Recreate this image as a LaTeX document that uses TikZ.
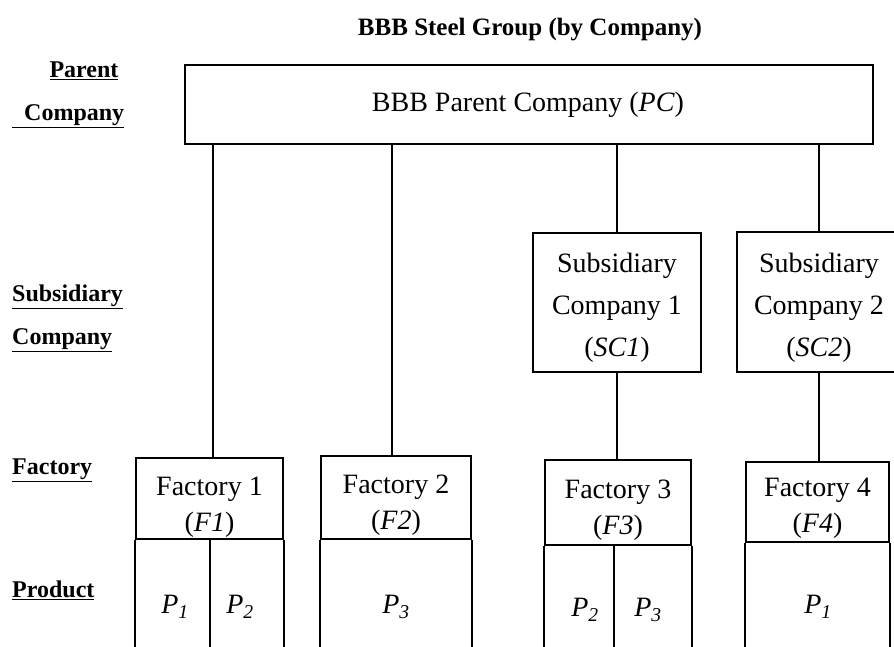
\documentclass[tikz,border=0pt]{standalone}
\usepackage{fontspec}
\setmainfont{Liberation Serif}
\begin{document}
\begin{tikzpicture}[x=1pt,y=-1pt,
  box/.style={draw, line width=1.8pt, rectangle, inner sep=0pt},
  boxtext/.style={font=\fontsize{28}{42}\selectfont, align=center, inner sep=0pt},
  factext/.style={font=\fontsize{28}{36}\selectfont, align=center, inner sep=0pt},
  prodtext/.style={font=\fontsize{28}{32}\selectfont\itshape, inner sep=0pt},
  side/.style={font=\fontsize{24}{28}\selectfont\bfseries, inner sep=0pt},
  conn/.style={line width=1.8pt}]
\useasboundingbox (0,0) rectangle (894,647);
\clip (0,0) rectangle (894,647);
\fill[white] (0,0) rectangle (894,647);
\coordinate (bot) at (0,650);

% title
\node[font=\fontsize{25}{28}\selectfont\bfseries, inner sep=0pt] (title) at (530,30) {BBB Steel Group (by Company)};

% side labels
\node[side] (lparent) at (84,71) {\underline{Parent}};
\node[side, anchor=west] (lcompany) at (12,116) {\underline{\ \ Company}};
\node[side, anchor=west] (lsub) at (12,297) {\underline{Subsidiary}};
\node[side, anchor=west] (lsubc) at (12,340) {\underline{Company}};
\node[side, anchor=west] (lfac) at (12,470) {\underline{Factory}};
\node[side, anchor=west] (lprod) at (12,590) {\underline{Product}};

% parent
\node[box, minimum width=688pt, minimum height=79pt] (pc) at (529,104.5) {};
\node[boxtext] (pct) at (528,105) {BBB Parent Company (\textit{PC})};

% subsidiaries
\node[box, minimum width=168pt, minimum height=139pt] (sc1) at (617,302.5) {};
\node[boxtext] (sc1t) at (617,308) {Subsidiary\\Company 1\\(\textit{SC1})};
\node[box, minimum width=164pt, minimum height=140pt] (sc2) at (819,302) {};
\node[boxtext] (sc2t) at (819,308) {Subsidiary\\Company 2\\(\textit{SC2})};

% factory headers
\node[box, minimum width=147pt, minimum height=81pt] (f1) at (209.5,498.5) {};
\node[factext] (f1t) at (209.5,507) {Factory 1\\(\textit{F1})};
\node[box, minimum width=150pt, minimum height=83pt] (f2) at (396,497.5) {};
\node[factext] (f2t) at (396,505) {Factory 2\\(\textit{F2})};
\node[box, minimum width=146pt, minimum height=85pt] (f3) at (618,502.5) {};
\node[factext] (f3t) at (618,510) {Factory 3\\(\textit{F3})};
\node[box, minimum width=143pt, minimum height=80pt] (f4) at (817.5,502) {};
\node[factext] (f4t) at (817.5,508) {Factory 4\\(\textit{F4})};

% factory bodies (open at the bottom)
\foreach \f in {f1,f2,f3,f4}{
  \draw[conn] (\f.south west) -- (\f.south west |- bot);
  \draw[conn] (\f.south east) -- (\f.south east |- bot);
}
\coordinate (f1mid) at (210,539);
\coordinate (f3mid) at (614,545);
\draw[conn] (f1mid) -- (f1mid |- bot);
\draw[conn] (f3mid) -- (f3mid |- bot);

% products
\node[prodtext] (p11) at (175,607) {P\textsubscript{1}};
\node[prodtext] (p12) at (240,607) {P\textsubscript{2}};
\node[prodtext] (p23) at (396,607) {P\textsubscript{3}};
\node[prodtext] (p32) at (585,610) {P\textsubscript{2}};
\node[prodtext] (p33) at (648,610) {P\textsubscript{3}};
\node[prodtext] (p41) at (818,607) {P\textsubscript{1}};

% connectors
\coordinate (c1) at (213,0);
\coordinate (c2) at (392,0);
\coordinate (c3) at (617,0);
\coordinate (c4) at (819,0);
\draw[conn] (c1 |- pc.south) -- (c1 |- f1.north);
\draw[conn] (c2 |- pc.south) -- (c2 |- f2.north);
\draw[conn] (c3 |- pc.south) -- (c3 |- sc1.north);
\draw[conn] (c4 |- pc.south) -- (c4 |- sc2.north);
\draw[conn] (c3 |- sc1.south) -- (c3 |- f3.north);
\draw[conn] (c4 |- sc2.south) -- (c4 |- f4.north);
\end{tikzpicture}
\end{document}
